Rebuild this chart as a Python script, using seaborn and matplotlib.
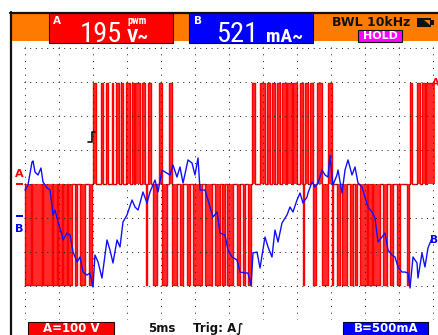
import numpy as np
import pandas as pd
import matplotlib
matplotlib.use("Agg")
import matplotlib.pyplot as plt
import seaborn as sns
from matplotlib.patches import Rectangle, Polygon
from matplotlib.lines import Line2D
from matplotlib import font_manager

# ---------------- data ----------------
# Channel B (current) trace: time in ms, current in mA
b_time_ms = [0.0, 0.44, 1.03, 1.18, 1.47, 1.91, 2.35, 2.65, 3.24, 3.68, 4.12, 4.41, 4.85,
             5.44, 5.59, 6.18, 6.62, 7.06, 7.65, 8.09, 8.53, 9.12, 9.56, 10.0, 10.29, 10.74,
             11.32, 12.06, 12.5, 12.94, 13.53, 13.97, 14.41, 15.0, 15.74, 16.18, 16.62,
             16.91, 17.35, 17.94, 18.38, 19.12, 19.56, 20.15, 20.59, 21.32, 21.76, 22.35,
             22.79, 23.24, 23.97, 24.56, 25.0, 25.44, 25.74, 26.47, 27.21, 27.65, 28.24,
             28.68, 29.41, 29.85, 30.44, 31.18, 31.62, 32.35, 32.79, 33.24, 33.53, 34.12,
             34.56, 35.29, 35.74, 36.32, 36.76, 37.21, 37.79, 38.53, 38.97, 39.41, 40.0,
             40.44, 40.88, 41.47, 41.62, 42.21, 42.65, 43.09, 43.68, 44.12, 44.56, 44.85,
             45.15, 45.29, 45.88, 46.03, 46.62, 47.06, 47.5, 48.09, 48.53, 48.97, 49.56,
             50.0, 50.44, 51.03, 51.47, 51.91, 52.5, 52.94, 53.38, 53.97, 54.41, 54.85,
             55.44, 55.88, 56.32, 56.62, 57.06, 57.65, 57.79, 58.38, 58.82, 59.26, 59.85]
b_current_ma = [407, 481, 819, 834, 672, 628, 731, 525, 437, 407, 40, 113, -63,
                -254, -328, -225, -254, -504, -651, -578, -799, -843, -813, -1019, -549, -651,
                -887, -328, -475, -666, -328, -431, -63, 40, 260, 157, 113,
                216, 378, 216, 378, 554, 378, 701, 672, 628, 775, 598,
                746, 510, 849, 804, 628, 878, 407, 407, 157, 10, 84,
                -225, -254, -475, -578, -622, -799, -813, -813, -990, -519, -504,
                -740, -284, -431, -578, -181, -357, -78, 40, 157, 84, 260,
                363, 216, 304, 363, 525, 451, 510, 701, 628, 598, 922,
                598, 481, 628, 701, 363, 701, 849, 628, 746, 510, 451,
                304, 157, 84, -4, -357, -284, -225, -475, -549, -578, -725,
                -799, -799, -813, -1034, -578, -666, -887, -519, -725, -446, -299]

# Channel A (PWM voltage): pulse start/end times in ms
pos_start_ms = [10.04, 11.13, 11.91, 12.75, 13.38, 14.07, 14.85, 15.69, 16.18, 17.16, 18.09,
                19.71, 21.22,
                33.34, 34.56, 35.54, 36.28, 37.01, 37.75, 38.53, 39.41, 40.44, 41.25, 41.91,
                42.90, 44.60,
                56.66, 57.60, 58.34, 59.04]
pos_end_ms = [10.44, 11.51, 12.25, 12.99, 13.87, 14.46, 15.44, 16.03, 16.91, 17.65, 18.60,
              20.10, 21.62,
              33.82, 35.29, 36.03, 36.76, 37.50, 38.38, 39.26, 40.00, 40.81, 41.66, 42.28,
              43.63, 45.10,
              56.91, 58.09, 58.82, 60.40]
neg_start_ms = [0.0, 0.99, 2.69, 4.16, 4.90, 5.63, 6.37, 7.35, 8.09, 9.41,
                17.75, 18.82, 20.22,
                21.69, 22.79, 23.78, 24.75, 26.47, 27.94, 28.93, 29.75, 31.13, 32.10, 32.84,
                40.88, 42.35, 43.68,
                45.15, 45.84, 46.57, 47.79, 48.53, 49.26, 50.49, 51.22, 52.69, 53.68, 54.66,
                56.13]
neg_end_ms = [0.81, 2.46, 3.93, 4.66, 5.40, 6.13, 6.87, 7.60, 8.82, 9.78,
              17.99, 19.41, 20.81,
              22.31, 23.28, 24.26, 25.99, 27.46, 28.68, 29.41, 30.63, 31.62, 32.35, 33.21,
              41.10, 42.79, 44.56,
              45.34, 46.32, 47.31, 48.28, 48.78, 50.25, 50.99, 52.21, 53.19, 54.16, 55.15,
              56.54]
pos_level_v = 296
neg_level_v = -298

a_scale_v_per_div = 100
b_scale_ma_per_div = 500
b_zero_div = -1
time_per_div_ms = 5

reading_a = "195"
reading_b = "521"

# ---------------- build traces ----------------
pulses = sorted([(s, e, pos_level_v) for s, e in zip(pos_start_ms, pos_end_ms)] +
                [(s, e, neg_level_v) for s, e in zip(neg_start_ms, neg_end_ms)])
ta, va = [0.0], [0.0]
for s, e, lvl in pulses:
    ta += [s, s, e, e]
    va += [0.0, lvl, lvl, 0.0]
df_a = pd.DataFrame({"t": ta, "div": np.array(va) / a_scale_v_per_div})
df_b = pd.DataFrame({"t": b_time_ms,
                     "div": np.array(b_current_ma) / b_scale_ma_per_div + b_zero_div})

# pick a narrow font for the big readings if one is installed
narrow_family = "DejaVu Sans"
narrow_stretch = "normal"
_names = {f.name: f for f in font_manager.fontManager.ttflist}
for cand in ["Liberation Sans Narrow", "Arial Narrow", "Roboto Condensed",
             "Open Sans Condensed", "Noto Sans Display"]:
    if cand in _names:
        narrow_family = cand
        break
else:
    for f in font_manager.fontManager.ttflist:
        if f.name == "DejaVu Sans" and "ondensed" in str(f.stretch):
            narrow_stretch = "condensed"
            break
        if f.name == "DejaVu Sans" and "Condensed" in f.fname:
            narrow_stretch = "condensed"
            break

# ---------------- figure ----------------
sns.set_style("white")
W, H = 438, 335
fig = plt.figure(figsize=(W / 100, H / 100), dpi=100)
fig.patch.set_facecolor("white")

px_per_ms = 34 / time_per_div_ms
xpad, ypad = 0.1, 0.02
left_px, right_px = 25 - xpad * px_per_ms, 433 + xpad * px_per_ms
top_px, bot_px = 47.7 - ypad * 34, 319.7 + ypad * 34
ax = fig.add_axes([left_px / W, 1 - bot_px / H, (right_px - left_px) / W, (bot_px - top_px) / H])
ax.set_xlim(-xpad, 12 * time_per_div_ms + xpad)
ax.set_ylim(-4 - ypad, 4 + ypad)

red = "#ff0000"
blue = "#1010ff"
ax.fill_between(df_a["t"], 0, df_a["div"], color="#ff2a2a", lw=0, zorder=1)
sns.lineplot(data=df_a, x="t", y="div", estimator=None, sort=False, color=red,
             lw=1.0, ax=ax, zorder=2)
sns.lineplot(data=df_b, x="t", y="div", estimator=None, sort=False, color=blue,
             lw=1.0, ax=ax, zorder=4)

ax.set_xticks(np.arange(0, 12 * time_per_div_ms + 1, time_per_div_ms))
ax.set_yticks(np.arange(-4, 5, 1))
ax.set_axisbelow(False)
ax.xaxis.grid(True, color="#222222", lw=0.72, linestyle=(0, (1, 5.8)), zorder=3)
ax.yaxis.grid(True, color="#222222", lw=0.72, linestyle=(0, (1, 4.67)), zorder=3)
ax.tick_params(length=0, labelbottom=False, labelleft=False)
ax.set_xlabel("")
ax.set_ylabel("")
for sp in ax.spines.values():
    sp.set_visible(False)

# ---------------- decorations (screen chrome) ----------------
ov = fig.add_axes([0, 0, 1, 1], zorder=10)
ov.set_xlim(0, W)
ov.set_ylim(H, 0)
ov.axis("off")
ov.patch.set_visible(False)

orange = "#ff7a00"
ov.add_patch(Rectangle((12, 13), W - 12, 28, facecolor=orange, edgecolor="none"))
ov.add_line(Line2D([10, W], [12.5, 12.5], color="#111111", lw=1.6))
ov.add_line(Line2D([11, 11], [12, H], color="#111111", lw=1.6))

big = dict(color="white", va="baseline", ha="left", family=narrow_family,
           fontstretch=narrow_stretch)

# channel A reading box
ov.add_patch(Rectangle((49, 13), 124, 30, facecolor=red, edgecolor="#300000", lw=0.8))
ov.text(53, 21, "A", color="white", fontsize=7.5, fontweight="bold", va="center", ha="left")
ov.text(80, 41.5, reading_a, fontsize=20.5, **big)
ov.text(127, 41.5, "V~", fontsize=14, fontweight="bold", **big)
ov.text(127, 24.5, "pwm", color="white", fontsize=7.5, fontweight="bold", va="baseline",
        ha="left", family=narrow_family, fontstretch=narrow_stretch)

# channel B reading box
ov.add_patch(Rectangle((189, 13), 124, 30, facecolor="#0000ff", edgecolor="#000030", lw=0.8))
ov.text(194, 21, "B", color="white", fontsize=7.5, fontweight="bold", va="center", ha="left")
ov.text(216, 41.5, reading_b, fontsize=20.5, **big)
ov.text(266, 41.5, "mA~", fontsize=14, fontweight="bold", **big)

# status area
ov.text(332, 22.5, "BWL 10kHz", color="#111111", fontsize=9, fontweight="bold",
        va="center", ha="left")
ov.add_patch(Rectangle((417, 18), 14, 9, facecolor="#111111", edgecolor="none"))
ov.add_patch(Rectangle((431, 20), 2.5, 5, facecolor="#111111", edgecolor="none"))
ov.add_patch(Polygon([[424, 19.5], [430, 19.5], [430, 25]], closed=True,
                     facecolor=orange, edgecolor="none"))
ov.add_patch(Rectangle((358, 29.5), 44, 12.5, facecolor="#ff00ff", edgecolor="#111111", lw=0.8))
ov.text(380, 36, "HOLD", color="white", fontsize=8, fontweight="bold", va="center", ha="center")

# channel markers
ov.text(19.5, 174, "A", color=red, fontsize=8, fontweight="bold", va="center", ha="center")
ov.add_patch(Rectangle((16, 182.7), 6.5, 2, facecolor=red, edgecolor="none"))
ov.add_patch(Rectangle((16, 215), 6.5, 2.3, facecolor="#0000ff", edgecolor="none"))
ov.text(19.5, 229, "B", color="#0000ff", fontsize=8, fontweight="bold", va="center", ha="center")
ov.text(431.5, 83, "A", color=red, fontsize=7, fontweight="bold", va="center", ha="left")
ov.text(430, 240, "B", color="#0000ff", fontsize=7.5, fontweight="bold", va="center", ha="left")

# trigger symbol
ov.add_line(Line2D([88, 91.5, 91.5, 95], [141.5, 141.5, 132, 132], color="#111111", lw=1.2))

# bottom status line
ov.add_patch(Rectangle((28, 321.5), 86, 16, facecolor=red, edgecolor="#300000", lw=0.8))
ov.text(71, 332, "A=100 V", color="white", fontsize=8.5, fontweight="bold", va="baseline", ha="center")
ov.text(148, 332, "5ms", color="#111111", fontsize=8.5, fontweight="bold", va="baseline", ha="left")
ov.text(193, 332, "Trig: A\u222b", color="#111111", fontsize=8.5, fontweight="bold",
        va="baseline", ha="left")
ov.add_patch(Rectangle((343, 321.5), 85, 16, facecolor="#0000ff", edgecolor="#000030", lw=0.8))
ov.text(386, 332, "B=500mA", color="white", fontsize=8.5, fontweight="bold", va="baseline", ha="center")

fig.savefig("out.png", dpi=100, facecolor="white")
